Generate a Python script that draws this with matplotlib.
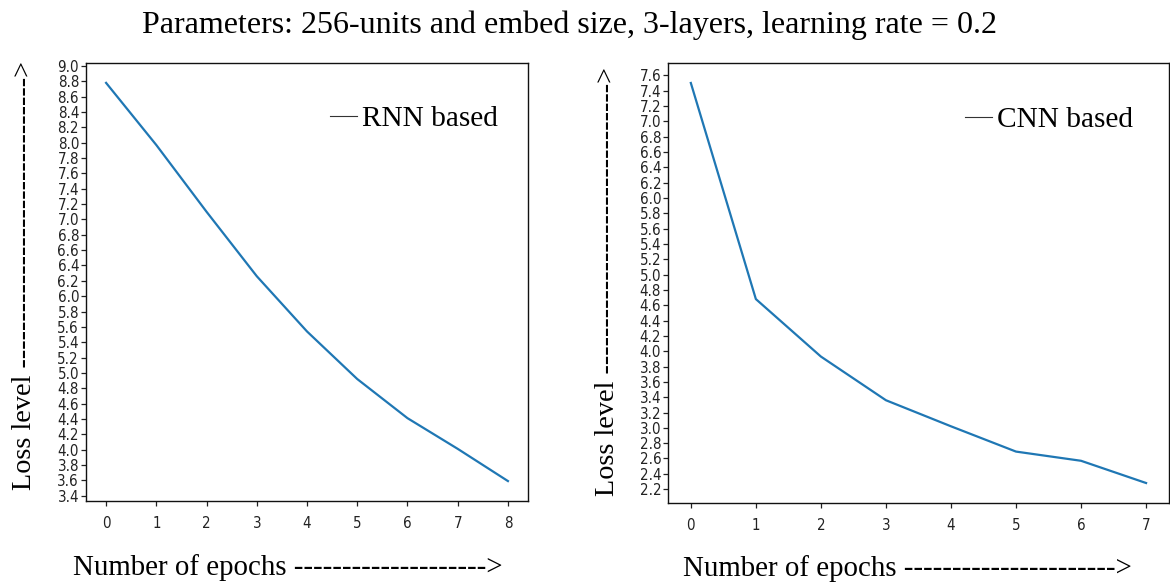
import matplotlib
matplotlib.use("Agg")
import matplotlib.pyplot as plt
from matplotlib.lines import Line2D
from matplotlib.ticker import MultipleLocator, FormatStrFormatter

# Loss per epoch for the two models
rnn_epochs = [0, 1, 2, 3, 4, 5, 6, 7, 8]
rnn_loss = [8.78, 7.97, 7.10, 6.26, 5.54, 4.92, 4.41, 4.01, 3.59]

cnn_epochs = [0, 1, 2, 3, 4, 5, 6, 7]
cnn_loss = [7.50, 4.68, 3.93, 3.36, 3.02, 2.69, 2.57, 2.28]

title_text = "Parameters: 256-units and embed size, 3-layers, learning rate = 0.2"
rnn_label = "RNN based"
cnn_label = "CNN based"
left_xlabel = "Number of epochs " + "-" * 20 + ">"
right_xlabel = "Number of epochs " + "-" * 22 + ">"
ylabel_text = "Loss level " + "-" * 31 + ">"

SERIF = "Liberation Serif"
LINE_COLOR = "#1f77b4"

fig = plt.figure(figsize=(11.70, 5.83), dpi=100)
fig.patch.set_facecolor("white")

ax_l = fig.add_axes([0.0735, 0.1407, 0.3778, 0.7513])
ax_r = fig.add_axes([0.5710, 0.1372, 0.4280, 0.7548])


def style_axes(ax):
    ax.yaxis.set_major_locator(MultipleLocator(0.2))
    ax.xaxis.set_major_locator(MultipleLocator(1))
    ax.yaxis.set_major_formatter(FormatStrFormatter("%.1f"))
    ax.tick_params(axis="both", length=3.5, width=0.9,
                   colors="#222222", labelcolor="#222222")
    ax.tick_params(axis="x", pad=7)
    ax.tick_params(axis="y", pad=1.5)
    for lab in ax.get_xticklabels() + ax.get_yticklabels():
        lab.set_fontsize(10.8)
        lab.set_fontstretch("condensed")
    for sp in ax.spines.values():
        sp.set_linewidth(1.0)
        sp.set_color("#111111")


def add_legend(ax, label, x, y):
    handle = Line2D([], [], color="#333333", lw=0.8)
    ax.legend([handle], [label], loc="center", bbox_to_anchor=(x, y),
              frameon=False, handlelength=0.92, handletextpad=0.17,
              prop={"family": SERIF, "size": 21.2})


ax_l.plot(rnn_epochs, rnn_loss, color=LINE_COLOR, lw=1.6)
style_axes(ax_l)
add_legend(ax_l, rnn_label, 0.742, 0.872)

ax_r.plot(cnn_epochs, cnn_loss, color=LINE_COLOR, lw=1.6)
style_axes(ax_r)
add_legend(ax_r, cnn_label, 0.760, 0.870)

fig.text(0.487, 0.957, title_text, ha="center", va="center",
         family=SERIF, fontsize=23)
fig.text(0.246, 0.027, left_xlabel, ha="center", va="center",
         family=SERIF, fontsize=20.8)
fig.text(0.776, 0.024, right_xlabel, ha="center", va="center",
         family=SERIF, fontsize=20.8)
fig.text(0.021, 0.527, ylabel_text, ha="center", va="center",
         rotation=90, family=SERIF, fontsize=20.3)
fig.text(0.519, 0.518, ylabel_text, ha="center", va="center",
         rotation=90, family=SERIF, fontsize=20.3)

fig.savefig("out.png", dpi=100, facecolor="white")
